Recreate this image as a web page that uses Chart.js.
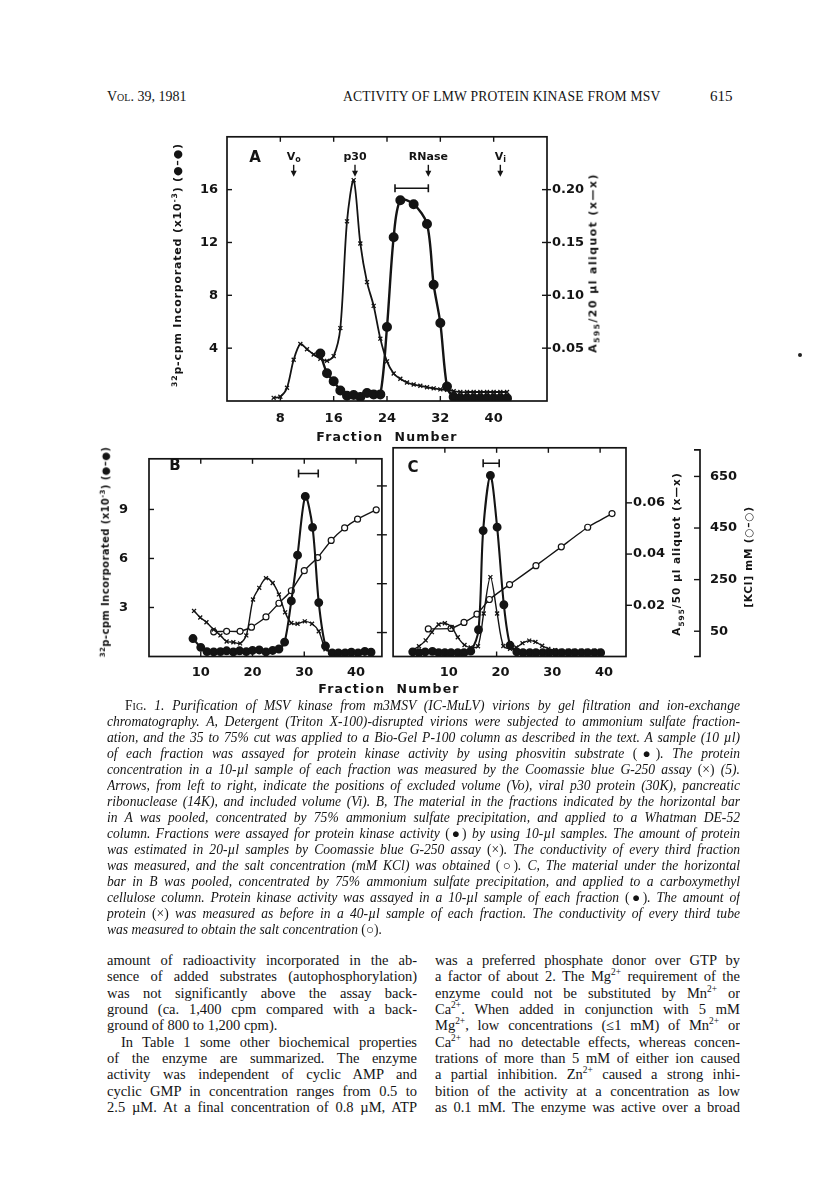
<!DOCTYPE html>
<html><head><meta charset="utf-8">
<script src="https://cdn.jsdelivr.net/npm/chart.js@4.4.1/dist/chart.umd.min.js"></script>
<style>
body{margin:0;background:#fff;width:816px;height:1197px;position:relative;overflow:hidden;font-family:"Liberation Serif",serif;color:#141414}
canvas{position:absolute}
.rot{position:absolute;transform:translate(-50%,-50%) rotate(-90deg);white-space:nowrap;font-family:"DejaVu Sans",sans-serif;font-weight:bold;color:#141414}
.rot sup,.rot sub{font-size:70%}
.fn{position:absolute;transform:translate(-50%,-50%);font-family:"DejaVu Sans",sans-serif;font-weight:bold;font-size:12.5px;letter-spacing:1.2px;white-space:nowrap}
.pl{position:absolute;transform:translate(-50%,-50%);font-family:"DejaVu Sans",sans-serif;font-weight:bold;font-size:15px}
.cap{position:absolute;left:107px;top:698px;width:633px;font-style:italic;font-size:13.6px}
.cap div{height:16px;line-height:16px;text-align:justify;text-align-last:justify;overflow:hidden}
.col{position:absolute;top:952px;font-size:14.5px}
.col div{height:16.33px;line-height:16.33px;text-align:justify;text-align-last:justify;overflow:hidden}
.col sup{font-size:65%;line-height:0;vertical-align:6px}
.sc{font-style:normal;font-variant:small-caps}
</style></head>
<body>
<div style="position:absolute;left:107px;top:89px;font-size:14px;font-variant:small-caps;white-space:nowrap">Vol. 39, 1981</div>
<div style="position:absolute;left:343px;top:89px;font-size:13.6px;white-space:nowrap;letter-spacing:0.2px">ACTIVITY OF LMW PROTEIN KINASE FROM MSV</div>
<div style="position:absolute;left:710px;top:88px;font-size:15px;white-space:nowrap">615</div>

<canvas id="cA" width="480" height="330" style="left:140px;top:120px"></canvas>
<canvas id="cB" width="328" height="275" style="left:60px;top:430px"></canvas>
<canvas id="cC" width="400" height="275" style="left:387px;top:430px"></canvas>

<div class="rot" style="left:177px;top:265px;font-size:11px;letter-spacing:0.8px"><sup>32</sup>p-cpm Incorporated (x10<sup>-3</sup>) (●–●)</div>
<div class="rot" style="left:594px;top:263px;font-size:11px;letter-spacing:1.4px">A<sub>595</sub>/20 µl aliquot (x—x)</div>
<div class="fn" style="left:387px;top:436px">Fraction&nbsp;&nbsp;Number</div>
<div class="pl" style="left:255px;top:157px">A</div>

<div class="rot" style="left:105px;top:552px;font-size:10px;letter-spacing:0.4px"><sup>32</sup>p-cpm Incorporated (x10<sup>-3</sup>) (●–●)</div>
<div class="rot" style="left:678px;top:554px;font-size:10.5px;letter-spacing:1px">A<sub>595</sub>/50 µl aliquot (x—x)</div>
<div class="rot" style="left:748px;top:557px;font-size:10.5px;letter-spacing:0.8px">[KCl] mM (○–○)</div>
<div class="fn" style="left:389px;top:688px">Fraction&nbsp;&nbsp;Number</div>
<div class="pl" style="left:175px;top:465px">B</div>
<div class="pl" style="left:413px;top:467px">C</div>
<div style="position:absolute;left:798px;top:353px;width:4px;height:4px;border-radius:2px;background:#222"></div>

<div class="cap">
<div style="padding-left:18px"><span class="sc">Fig.</span> 1. Purification of MSV kinase from m3MSV (IC-MuLV) virions by gel filtration and ion-exchange</div>
<div>chromatography. A, Detergent (Triton X-100)-disrupted virions were subjected to ammonium sulfate fraction-</div>
<div>ation, and the 35 to 75% cut was applied to a Bio-Gel P-100 column as described in the text. A sample (10 µl)</div>
<div>of each fraction was assayed for protein kinase activity by using phosvitin substrate <span style="font-style:normal">(●)</span>. The protein</div>
<div>concentration in a 10-µl sample of each fraction was measured by the Coomassie blue G-250 assay <span style="font-style:normal">(×)</span> (5).</div>
<div>Arrows, from left to right, indicate the positions of excluded volume (Vo), viral p30 protein (30K), pancreatic</div>
<div>ribonuclease (14K), and included volume (Vi). B, The material in the fractions indicated by the horizontal bar</div>
<div>in A was pooled, concentrated by 75% ammonium sulfate precipitation, and applied to a Whatman DE-52</div>
<div>column. Fractions were assayed for protein kinase activity <span style="font-style:normal">(●)</span> by using 10-µl samples. The amount of protein</div>
<div>was estimated in 20-µl samples by Coomassie blue G-250 assay <span style="font-style:normal">(×)</span>. The conductivity of every third fraction</div>
<div>was measured, and the salt concentration (mM KCl) was obtained <span style="font-style:normal">(○)</span>. C, The material under the horizontal</div>
<div>bar in B was pooled, concentrated by 75% ammonium sulfate precipitation, and applied to a carboxymethyl</div>
<div>cellulose column. Protein kinase activity was assayed in a 10-µl sample of each fraction <span style="font-style:normal">(●)</span>. The amount of</div>
<div>protein <span style="font-style:normal">(×)</span> was measured as before in a 40-µl sample of each fraction. The conductivity of every third tube</div>
<div style="text-align-last:left">was measured to obtain the salt concentration <span style="font-style:normal">(○)</span>.</div>
</div>

<div class="col" style="left:107px;width:310px">
<div>amount of radioactivity incorporated in the ab-</div>
<div>sence of added substrates (autophosphorylation)</div>
<div>was not significantly above the assay back-</div>
<div>ground (ca. 1,400 cpm compared with a back-</div>
<div style="text-align-last:left">ground of 800 to 1,200 cpm).</div>
<div style="padding-left:14px">In Table 1 some other biochemical properties</div>
<div>of the enzyme are summarized. The enzyme</div>
<div>activity was independent of cyclic AMP and</div>
<div>cyclic GMP in concentration ranges from 0.5 to</div>
<div>2.5 µM. At a final concentration of 0.8 µM, ATP</div>
</div>
<div class="col" style="left:435px;width:305px">
<div>was a preferred phosphate donor over GTP by</div>
<div>a factor of about 2. The Mg<sup>2+</sup> requirement of the</div>
<div>enzyme could not be substituted by Mn<sup>2+</sup> or</div>
<div>Ca<sup>2+</sup>. When added in conjunction with 5 mM</div>
<div>Mg<sup>2+</sup>, low concentrations (≤1 mM) of Mn<sup>2+</sup> or</div>
<div>Ca<sup>2+</sup> had no detectable effects, whereas concen-</div>
<div>trations of more than 5 mM of either ion caused</div>
<div>a partial inhibition. Zn<sup>2+</sup> caused a strong inhi-</div>
<div>bition of the activity at a concentration as low</div>
<div>as 0.1 mM. The enzyme was active over a broad</div>
</div>

<script>
// ---------- Panel A (Bio-Gel P-100) ----------
const aKinaseFrac = [14,15,16,17,18,19,20,21,22,23,24,25,26,28,30,31,32,33,34,35,36,37,38,39,40,41,42];
const aKinaseCpm  = [3.6,2.1,1.5,0.8,0.4,0.45,0.3,0.6,0.5,0.5,5.6,12.4,15.2,14.9,13.4,8.8,5.9,1.1,0.3,0.2,0.2,0.2,0.2,0.2,0.2,0.2,0.2];
const aProteinFrac = [7,8,9,10,11,12,13,14,15,16,17,18,19,20,21,22,23,24,25,26,27,28,29,30,31,32,33,34,35,36,37,38,39,40,41,42];
const aProteinA595 = [0.003,0.004,0.0125,0.039,0.054,0.049,0.044,0.040,0.038,0.0425,0.069,0.170,0.209,0.149,0.1125,0.090,0.059,0.0375,0.026,0.021,0.0175,0.0156,0.0144,0.013,0.012,0.011,0.0105,0.0094,0.0085,0.0085,0.0085,0.0085,0.0085,0.0085,0.0085,0.0085];
const aXTicks = [8,16,24,32,40];
const aYTicks = [4,8,12,16];
const aY2Ticks = [0.05,0.10,0.15,0.20];
const aMarkerNames = ['V|o','p30','RNase','V|i'];
const aMarkerFrac = [10,19.2,30.2,41];
const aPool = [25.2,30.2,16.1];

// ---------- Panel B (DE-52) ----------
const bKinaseFrac = [8.5,10.0,11.2,12.5,13.8,15.0,16.3,17.5,18.8,20.0,21.3,22.6,23.9,25.1,26.2,27.5,28.7,30.2,31.6,32.8,34.1,35.4,36.6,37.9,39.1,40.4,41.7,42.9];
const bKinaseCpm  = [1.1,0.56,0.3,0.28,0.3,0.35,0.28,0.35,0.3,0.37,0.4,0.28,0.37,0.46,0.88,3.4,6.2,9.8,7.9,3.3,0.64,0.22,0.22,0.22,0.26,0.22,0.31,0.26];
const bProteinFrac = [8.7,9.9,11.1,12.5,13.8,15.0,16.3,17.6,18.8,20.1,21.3,22.6,23.9,25.1,26.3,27.5,28.7,30.1,31.5,32.8,34.1,35.4];
const bProteinA595 = [0.0188,0.0161,0.0141,0.0111,0.0087,0.0062,0.0059,0.0054,0.0087,0.0235,0.0283,0.0323,0.0303,0.0256,0.0182,0.0138,0.0135,0.0145,0.0135,0.0104,0.003,0.0013];
const bKclFrac = [12.5,15.0,17.6,19.8,22.6,25.1,27.5,30.0,32.6,35.2,37.8,40.3,43.9];
const bKclMM   = [53,55,55,72,114,170,221,303,357,427,478,514,552];
const bPool = [28.9,32.7,11.2];

// ---------- Panel C (carboxymethyl cellulose) ----------
const cKinaseFrac = [3.8,5.0,6.2,7.6,8.8,10.0,11.2,12.5,13.7,15.0,16.5,17.4,18.8,20.1,21.4,22.6,23.9,25.1,26.4,27.6,28.9,30.1,31.4,32.6,33.9,35.1,36.4,37.6,38.9,40.1];
const cKinaseCpm  = [0.27,0.22,0.27,0.3,0.22,0.22,0.22,0.22,0.22,0.31,1.55,7.3,10.5,7.5,3.0,0.65,0.27,0.22,0.22,0.22,0.22,0.22,0.22,0.22,0.22,0.22,0.22,0.22,0.22,0.22];
const cProteinFrac = [3.8,5.0,6.3,7.5,8.8,10.0,11.3,12.5,13.8,15.0,16.4,17.5,18.8,20.1,21.3,22.6,23.8,25.0,26.3,27.5,28.8,30.0,31.3,32.5,33.8,35.0,36.3,37.5,38.8,40.0];
const cProteinA595 = [0.0025,0.004,0.0063,0.0095,0.0125,0.013,0.0115,0.0075,0.0045,0.0035,0.004,0.0168,0.031,0.0168,0.0041,0.003,0.0035,0.0052,0.0062,0.0057,0.0042,0.003,0.0025,0.0022,0.0022,0.0022,0.0022,0.0022,0.0022,0.0022];
const cKclFrac = [6.8,11.2,13.7,16.2,18.6,22.5,27.6,32.5,37.6,42.3];
const cKclMM   = [59,61,84,116,173,231,304,377,453,506];
const cPool = [17.4,20.5,11.2];

const bcXTicks = [10,20,30,40];
const bcYTicks = [3,6,9];
const cY2Ticks = [0.02,0.04,0.06];
const kclTicks = [50,250,450,650];

// ---------- helpers ----------
const INK = '#141414';
Chart.defaults.font.family = '"DejaVu Sans", sans-serif';
Chart.defaults.font.size = 13;
Chart.defaults.color = INK;
const pts = (xs, ys) => xs.map((x, i) => ({x, y: ys[i]}));
function kinase(xs, ys, r, w, yId) {
  return {data: pts(xs, ys), yAxisID: yId, borderColor: INK, backgroundColor: INK, pointBackgroundColor: INK,
    pointBorderColor: INK, pointRadius: r, pointStyle: 'circle', borderWidth: w, tension: 0.3};
}
function protein(xs, ys, w, yId) {
  return {data: pts(xs, ys), yAxisID: yId, borderColor: INK, backgroundColor: INK, pointBorderColor: INK,
    pointRadius: 2.8, pointStyle: 'crossRot', pointBorderWidth: 1.3, borderWidth: w, tension: 0.3};
}
function kcl(xs, ys, yId) {
  return {data: pts(xs, ys), yAxisID: yId, borderColor: INK, pointBackgroundColor: '#fff', pointBorderColor: INK,
    pointRadius: 3, pointStyle: 'circle', pointBorderWidth: 1.2, borderWidth: 1.4, tension: 0.15};
}
function setTicks(vals) { return (s) => { s.ticks = vals.map(v => ({value: v})); }; }
function fixW(w) { return (s) => { s.width = w; }; }
function fixH(h) { return (s) => { s.height = h; }; }
const noGrid = {display: false, drawTicks: false, drawOnChartArea: false};
const noBorder = {display: false};
const tickFont = {size: 13, weight: 'bold'};

function framePlugin(spec) {
  return {
    id: 'frame' + Math.round(Math.random() * 1e6),
    afterDraw(chart) {
      const ctx = chart.ctx, ca = chart.chartArea;
      ctx.save();
      ctx.strokeStyle = INK; ctx.fillStyle = INK;
      ctx.lineWidth = 1.7;
      ctx.strokeRect(ca.left, ca.top, ca.right - ca.left, ca.bottom - ca.top);
      ctx.lineWidth = 1.4;
      spec.ticks.forEach(t => {
        const s = chart.scales[t.scale];
        t.values.forEach(v => {
          const p = s.getPixelForValue(v);
          ctx.beginPath();
          if (t.side === 'bottom') { ctx.moveTo(p, ca.bottom); ctx.lineTo(p, ca.bottom - t.len); }
          else if (t.side === 'top') { ctx.moveTo(p, ca.top); ctx.lineTo(p, ca.top + t.len); }
          else {
            const x = t.side === 'left' ? ca.left : t.side === 'right' ? ca.right : s.left;
            ctx.moveTo(x + t.from, p); ctx.lineTo(x + t.to, p);
          }
          ctx.stroke();
        });
      });
      if (spec.kclAxis) {
        const s = chart.scales.k, x = s.left;
        ctx.lineWidth = 1.7;
        ctx.beginPath();
        ctx.moveTo(x - 6, ca.top + 2); ctx.lineTo(x, ca.top + 2); ctx.lineTo(x, ca.bottom); ctx.lineTo(x - 6, ca.bottom);
        ctx.stroke();
      }
      if (spec.pool) {
        const [x1, x2, yv] = spec.pool;
        const sx = chart.scales.x, sy = chart.scales.y;
        const a = sx.getPixelForValue(x1), b = sx.getPixelForValue(x2), y = sy.getPixelForValue(yv);
        ctx.lineWidth = 1.6;
        ctx.beginPath();
        ctx.moveTo(a, y); ctx.lineTo(b, y);
        ctx.moveTo(a, y - 4); ctx.lineTo(a, y + 4);
        ctx.moveTo(b, y - 4); ctx.lineTo(b, y + 4);
        ctx.stroke();
      }
      if (spec.markers) {
        const sx = chart.scales.x;
        spec.markers.names.forEach((nm, i) => {
          const x = sx.getPixelForValue(spec.markers.frac[i]);
          const [main, sub] = nm.split('|');
          ctx.textBaseline = 'alphabetic';
          ctx.font = 'bold 11px "DejaVu Sans", sans-serif';
          const w1 = ctx.measureText(main).width;
          let w2 = 0;
          if (sub) { ctx.font = 'bold 8px "DejaVu Sans", sans-serif'; w2 = ctx.measureText(sub).width; }
          const x0 = x - (w1 + w2) / 2;
          ctx.font = 'bold 11px "DejaVu Sans", sans-serif';
          ctx.textAlign = 'left';
          ctx.fillText(main, x0, ca.top + 23);
          if (sub) { ctx.font = 'bold 8px "DejaVu Sans", sans-serif'; ctx.fillText(sub, x0 + w1, ca.top + 25); }
          ctx.lineWidth = 1.4;
          ctx.beginPath(); ctx.moveTo(x, ca.top + 28); ctx.lineTo(x, ca.top + 36); ctx.stroke();
          ctx.beginPath(); ctx.moveTo(x - 3, ca.top + 34); ctx.lineTo(x + 3, ca.top + 34); ctx.lineTo(x, ca.top + 40); ctx.closePath(); ctx.fill();
        });
      }
      ctx.restore();
    }
  };
}

// ---------- Chart A ----------
new Chart(document.getElementById('cA'), {
  type: 'line',
  data: {datasets: [
    kinase(aKinaseFrac, aKinaseCpm, 3.8, 2.4, 'y'),
    protein(aProteinFrac, aProteinA595, 1.8, 'y2')
  ]},
  options: {
    responsive: false, animation: false, devicePixelRatio: 1,
    layout: {padding: {top: 14, left: 0, right: 0, bottom: 0}},
    plugins: {legend: {display: false}, tooltip: {enabled: false}},
    scales: {
      x: {type: 'linear', min: 0, max: 48, grid: noGrid, border: noBorder,
          afterBuildTicks: setTicks(aXTicks), afterFit: fixH(49),
          ticks: {padding: 10, maxRotation: 0, font: tickFont}},
      y: {type: 'linear', position: 'left', min: 0, max: 20, grid: noGrid, border: noBorder,
          afterBuildTicks: setTicks(aYTicks), afterFit: fixW(87),
          ticks: {padding: 9, font: tickFont}},
      y2: {type: 'linear', position: 'right', min: 0, max: 0.25, grid: noGrid, border: noBorder,
          afterBuildTicks: setTicks(aY2Ticks), afterFit: fixW(73),
          ticks: {padding: 5, font: tickFont, callback: v => v.toFixed(2)}}
    }
  },
  plugins: [framePlugin({
    ticks: [
      {scale: 'x', side: 'bottom', len: 5, values: aXTicks},
      {scale: 'x', side: 'top', len: 5, values: aXTicks},
      {scale: 'y', side: 'left', from: 0, to: 5, values: aYTicks},
      {scale: 'y2', side: 'right', from: -5, to: 4, values: aY2Ticks}
    ],
    pool: aPool,
    markers: {names: aMarkerNames, frac: aMarkerFrac}
  })]
});

// ---------- Chart B ----------
new Chart(document.getElementById('cB'), {
  type: 'line',
  data: {datasets: [
    kinase(bKinaseFrac, bKinaseCpm, 3.4, 2.1, 'y'),
    protein(bProteinFrac, bProteinA595, 1.4, 'y2'),
    kcl(bKclFrac, bKclMM, 'k')
  ]},
  options: {
    responsive: false, animation: false, devicePixelRatio: 1,
    layout: {padding: {top: 13.5, left: 0, right: 0, bottom: 0}},
    plugins: {legend: {display: false}, tooltip: {enabled: false}},
    scales: {
      x: {type: 'linear', min: 0, max: 45, grid: noGrid, border: noBorder,
          afterBuildTicks: setTicks(bcXTicks), afterFit: fixH(48.5),
          ticks: {padding: 8, maxRotation: 0, font: tickFont}},
      y: {type: 'linear', position: 'left', min: 0, max: 12.1, grid: noGrid, border: noBorder,
          afterBuildTicks: setTicks(bcYTicks), afterFit: fixW(89),
          ticks: {padding: 21, font: tickFont}},
      y2: {type: 'linear', display: false, min: 0, max: 0.0815},
      k: {type: 'linear', display: false, min: -48, max: 761}
    }
  },
  plugins: [framePlugin({
    ticks: [
      {scale: 'x', side: 'bottom', len: 5, values: bcXTicks},
      {scale: 'x', side: 'top', len: 5, values: bcXTicks},
      {scale: 'y', side: 'left', from: 0, to: 5, values: bcYTicks},
      {scale: 'k', side: 'right', from: -5, to: 5, values: kclTicks}
    ],
    pool: bPool
  })]
});

// ---------- Chart C ----------
new Chart(document.getElementById('cC'), {
  type: 'line',
  data: {datasets: [
    kinase(cKinaseFrac, cKinaseCpm, 3.4, 2.1, 'y'),
    protein(cProteinFrac, cProteinA595, 1.4, 'y2'),
    kcl(cKclFrac, cKclMM, 'k')
  ]},
  options: {
    responsive: false, animation: false, devicePixelRatio: 1,
    layout: {padding: {top: 13.5, left: 0.5, right: 0, bottom: 0}},
    plugins: {legend: {display: false}, tooltip: {enabled: false}},
    scales: {
      x: {type: 'linear', min: 0, max: 45, grid: noGrid, border: noBorder,
          afterBuildTicks: setTicks(bcXTicks), afterFit: fixH(48.5),
          ticks: {padding: 8, maxRotation: 0, labelOffset: 4, font: tickFont}},
      y: {type: 'linear', display: false, min: 0, max: 12.1},
      y2: {type: 'linear', position: 'right', weight: 0, min: 0, max: 0.0815, grid: noGrid, border: noBorder,
          afterBuildTicks: setTicks(cY2Ticks), afterFit: fixW(74),
          ticks: {padding: 7, font: tickFont, callback: v => v.toFixed(2)}},
      k: {type: 'linear', position: 'right', weight: 1, min: -48, max: 761, grid: noGrid, border: noBorder,
          afterBuildTicks: setTicks(kclTicks), afterFit: fixW(87),
          ticks: {padding: 10, font: tickFont}}
    }
  },
  plugins: [framePlugin({
    ticks: [
      {scale: 'x', side: 'bottom', len: 5, values: bcXTicks},
      {scale: 'x', side: 'top', len: 5, values: bcXTicks},
      {scale: 'y2', side: 'right', from: 0, to: 6, values: cY2Ticks},
      {scale: 'k', side: 'axis', from: -6, to: 0, values: kclTicks}
    ],
    kclAxis: true,
    pool: cPool
  })]
});
</script>
</body></html>
